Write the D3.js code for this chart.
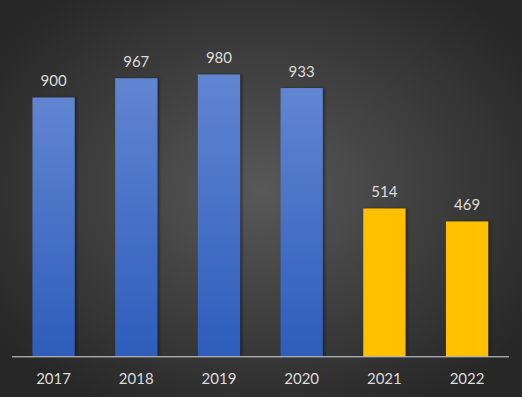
<!DOCTYPE html>
<html>
<head>
<meta charset="utf-8">
<script src="https://cdn.jsdelivr.net/npm/d3@7/dist/d3.min.js"></script>
<style>
html,body{margin:0;padding:0;background:#2b2b2b;overflow:hidden;}
svg{display:block;}
</style>
</head>
<body>
<script>
const categories = ["2017","2018","2019","2020","2021","2022"];
const values = [900, 967, 980, 933, 514, 469];
const highlight = [false, false, false, false, true, true];

const W = 522, H = 397;
const svg = d3.select("body").append("svg").attr("width", W).attr("height", H);
const defs = svg.append("defs");

const bg = defs.append("radialGradient").attr("id","bg")
  .attr("cx","50%").attr("cy","48%").attr("r","62%");
bg.append("stop").attr("offset","0%").attr("stop-color","#585858");
bg.append("stop").attr("offset","100%").attr("stop-color","#272727");

const bl = defs.append("linearGradient").attr("id","blue")
  .attr("x1","0").attr("y1","0").attr("x2","0").attr("y2","1");
bl.append("stop").attr("offset","0%").attr("stop-color","#6185d1");
bl.append("stop").attr("offset","100%").attr("stop-color","#2d5dbb");

const sh = defs.append("filter").attr("id","shadow")
  .attr("x","-20%").attr("y","-10%").attr("width","140%").attr("height","120%");
sh.append("feDropShadow").attr("dx",2).attr("dy",0).attr("stdDeviation",1.5)
  .attr("flood-color","#000").attr("flood-opacity",0.4);

svg.append("rect").attr("width",W).attr("height",H).attr("fill","url(#bg)");

const x = d3.scaleBand().domain(categories).range([12.2, 508.4]).paddingInner(0.49).paddingOuter(0.245);
const y = d3.scaleLinear().domain([0, 1200]).range([356.3, 11.3]);

const data = categories.map((c,i)=>({c, v: values[i], h: highlight[i]}));

svg.append("g").selectAll("rect").data(data).join("rect")
  .attr("x", d=>x(d.c)).attr("width", x.bandwidth())
  .attr("y", d=>y(d.v)).attr("height", d=>y(0)-y(d.v))
  .attr("fill", d=>d.h ? "#ffc000" : "url(#blue)")
  .attr("filter","url(#shadow)");

const font = "Lato, 'Open Sans', sans-serif";

svg.append("g").selectAll("text").data(data).join("text")
  .attr("x", d=>x(d.c)+x.bandwidth()/2).attr("y", d=>y(d.v)-11.5)
  .attr("text-anchor","middle").attr("fill","#dcdcdc")
  .style("font-family", font).style("font-size","15px")
  .text(d=>d3.format(",")(d.v));

const axis = d3.axisBottom(x).tickSize(0).tickPadding(0);
const gx = svg.append("g").attr("transform",`translate(0,${y(0)})`).call(axis);
gx.select(".domain").attr("d","M12,0.5H509").attr("stroke","#d9d9d9").attr("stroke-width",1);
gx.selectAll(".tick text").attr("dy",null).attr("y",28)
  .attr("fill","#dcdcdc").style("font-family",font).style("font-size","15px");
</script>
</body>
</html>
